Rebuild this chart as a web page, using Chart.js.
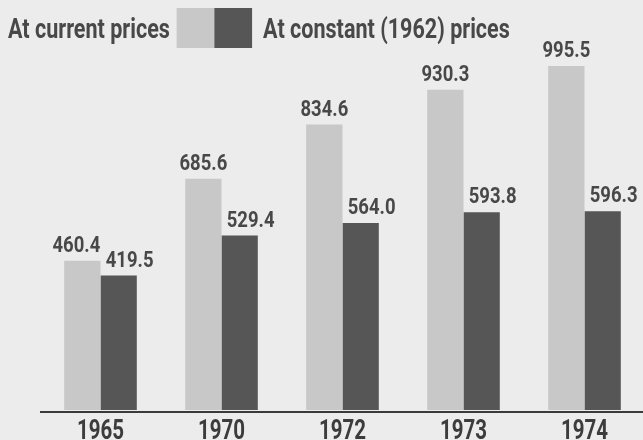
<!DOCTYPE html>
<html>
<head>
<meta charset="utf-8">
<script src="https://cdn.jsdelivr.net/npm/chart.js@4"></script>
<style>
    html, body { margin: 0; padding: 0; background: #ececec; overflow: hidden; }
    #wrap { position: relative; width: 643px; height: 440px; overflow: hidden; }
    #legend { position: absolute; left: 8px; top: 8px; height: 40px; display: flex; align-items: center;
        transform: scaleX(0.77); transform-origin: left center; white-space: nowrap;
        font-family: "Roboto", sans-serif; font-weight: bold; font-size: 28px; color: #484848; }
    .sw { display: inline-block; width: 49px; height: 40px; }
</style>
</head>
<body>
<div id="wrap">
    <div id="legend">
        <span>At current prices</span>
        <span class="sw" style="background:#c8c8c8; margin-left:9px;"></span><span class="sw" style="background:#565656; margin-right:14px;"></span>
        <span>At constant (1962) prices</span>
    </div>
    <canvas id="barChart" width="647" height="440"></canvas>
</div>
<script>
const years = ["1965", "1970", "1972", "1973", "1974"];
const currentPrices = [460.4, 685.6, 834.6, 930.3, 995.5];
const constantPrices = [419.5, 529.4, 564.0, 593.8, 596.3];

const FONT = "'Roboto', sans-serif";

// print type is condensed, so squeeze the text horizontally
function condensedText(ctx, text, x, y, squeeze) {
    ctx.save();
    ctx.translate(x, y);
    ctx.scale(squeeze, 1);
    ctx.fillText(text, 0, 0);
    ctx.restore();
}

// value labels above each bar
const valueLabels = {
    id: "valueLabels",
    afterDatasetsDraw(chart) {
        const ctx = chart.ctx;
        ctx.save();
        ctx.font = "bold 22px " + FONT;
        ctx.fillStyle = "#484848";
        ctx.textAlign = "center";
        ctx.textBaseline = "alphabetic";
        chart.data.datasets.forEach((ds, i) => {
            chart.getDatasetMeta(i).data.forEach((bar, j) => {
                let shift = i === 0 ? 0 : 11;
                if (i === 0 && j === 0) shift = -6;
                condensedText(ctx, ds.data[j].toFixed(1), bar.x + shift, bar.y - 9, 0.84);
            });
        });
        ctx.restore();
    }
};

// year labels and baseline
const axisLabels = {
    id: "axisLabels",
    afterDraw(chart) {
        const ctx = chart.ctx;
        const xs = chart.scales.x;
        const y0 = chart.chartArea.bottom;
        ctx.save();
        ctx.strokeStyle = "#3a3a3a";
        ctx.lineWidth = 2;
        ctx.beginPath();
        ctx.moveTo(40, y0 + 2);
        ctx.lineTo(chart.width, y0 + 2);
        ctx.stroke();
        ctx.font = "bold 27px " + FONT;
        ctx.fillStyle = "#3c3c3c";
        ctx.textAlign = "center";
        ctx.textBaseline = "alphabetic";
        chart.data.labels.forEach((lab, i) => {
            condensedText(ctx, lab, xs.getPixelForTick(i), y0 + 29, 0.76);
        });
        ctx.restore();
    }
};

new Chart(document.getElementById("barChart"), {
    type: "bar",
    data: {
        labels: years,
        datasets: [
            { label: "At current prices", data: currentPrices, backgroundColor: "#c8c8c8" },
            { label: "At constant (1962) prices", data: constantPrices, backgroundColor: "#565656" },
        ],
    },
    options: {
        responsive: false,
        animation: false,
        layout: { padding: { left: 40, right: 2, top: 28, bottom: 30 } },
        datasets: { bar: { categoryPercentage: 0.6, barPercentage: 1.0 } },
        scales: {
            x: { display: false },
            y: { display: false, min: 50, max: 1100 },
        },
        plugins: { legend: { display: false }, tooltip: { enabled: false } },
    },
    plugins: [valueLabels, axisLabels],
});
</script>
</body>
</html>
